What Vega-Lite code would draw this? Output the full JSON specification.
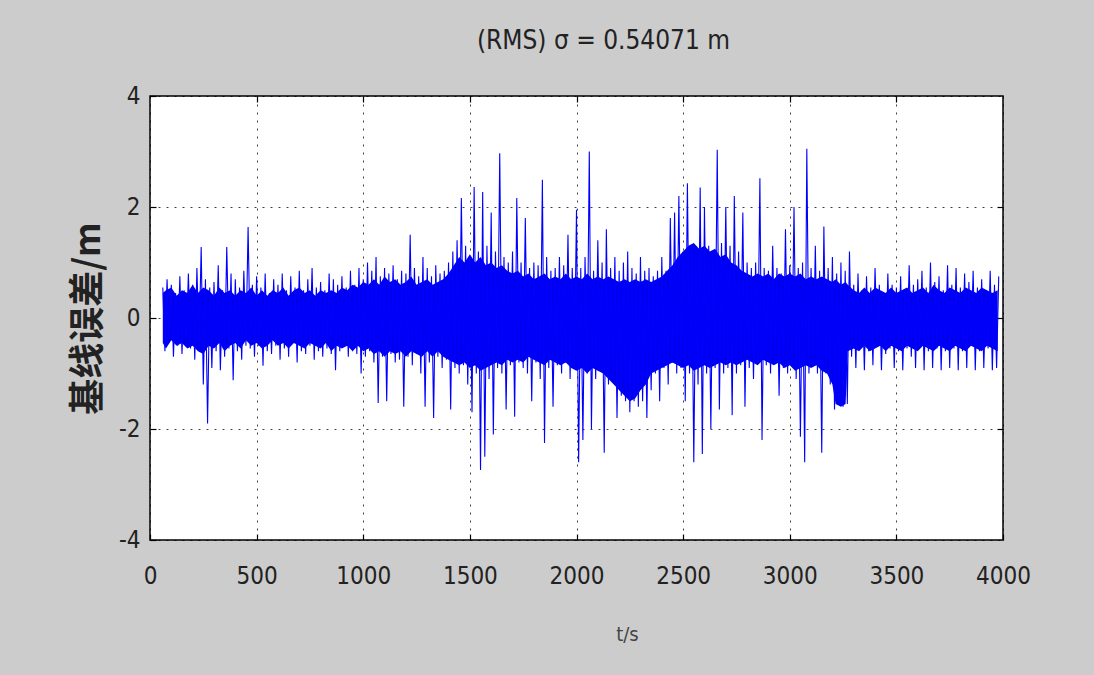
{
  "$schema": "https://vega.github.io/schema/vega-lite/v6.json",
  "width": 853,
  "height": 444,
  "autosize": {"type": "none"},
  "padding": {"left": 150, "top": 96, "right": 91, "bottom": 135},
  "background": "#cccccc",
  "title": {
    "text": "(RMS) σ = 0.54071 m",
    "anchor": "middle",
    "dx": 27,
    "offset": 30,
    "font": "DejaVu Sans Condensed, Liberation Sans, sans-serif",
    "fontSize": 26,
    "fontWeight": "normal",
    "color": "#222222"
  },
  "config": {
    "view": {"fill": "white", "stroke": "black", "strokeWidth": 1.5},
    "axis": {
      "labelFont": "DejaVu Sans Condensed, Liberation Sans, sans-serif",
      "labelFontSize": 24,
      "labelColor": "#222222",
      "labelExpr": "datum.value",
      "labelFlush": false,
      "domain": false,
      "tickColor": "black",
      "tickSize": -6,
      "tickWidth": 1.2,
      "gridColor": "black",
      "gridDash": [2, 6],
      "gridOpacity": 0.75,
      "gridWidth": 1
    }
  },
  "datasets": {
    "core": [
      {"t":60,"lo":-0.45,"hi":0.45},{"t":75,"lo":-0.55,"hi":0.5},{"t":100,"lo":-0.4,"hi":0.55},{"t":125,"lo":-0.5,"hi":0.4},{"t":150,"lo":-0.45,"hi":0.5},
      {"t":175,"lo":-0.55,"hi":0.45},{"t":200,"lo":-0.5,"hi":0.6},{"t":225,"lo":-0.6,"hi":0.45},{"t":250,"lo":-0.65,"hi":0.55},{"t":275,"lo":-0.5,"hi":0.5},
      {"t":300,"lo":-0.55,"hi":0.4},{"t":325,"lo":-0.45,"hi":0.55},{"t":350,"lo":-0.6,"hi":0.45},{"t":375,"lo":-0.5,"hi":0.5},{"t":400,"lo":-0.45,"hi":0.4},
      {"t":425,"lo":-0.55,"hi":0.5},{"t":450,"lo":-0.4,"hi":0.45},{"t":475,"lo":-0.5,"hi":0.55},{"t":500,"lo":-0.45,"hi":0.4},{"t":525,"lo":-0.55,"hi":0.5},
      {"t":550,"lo":-0.5,"hi":0.4},{"t":575,"lo":-0.4,"hi":0.5},{"t":600,"lo":-0.5,"hi":0.45},{"t":625,"lo":-0.45,"hi":0.55},{"t":650,"lo":-0.55,"hi":0.4},
      {"t":675,"lo":-0.45,"hi":0.5},{"t":700,"lo":-0.5,"hi":0.55},{"t":725,"lo":-0.55,"hi":0.45},{"t":750,"lo":-0.45,"hi":0.5},{"t":775,"lo":-0.5,"hi":0.4},
      {"t":800,"lo":-0.55,"hi":0.5},{"t":825,"lo":-0.45,"hi":0.45},{"t":850,"lo":-0.6,"hi":0.5},{"t":875,"lo":-0.5,"hi":0.45},{"t":900,"lo":-0.55,"hi":0.55},
      {"t":925,"lo":-0.5,"hi":0.5},{"t":950,"lo":-0.6,"hi":0.6},{"t":975,"lo":-0.5,"hi":0.55},{"t":1000,"lo":-0.6,"hi":0.65},{"t":1025,"lo":-0.55,"hi":0.6},
      {"t":1050,"lo":-0.65,"hi":0.7},{"t":1075,"lo":-0.6,"hi":0.6},{"t":1100,"lo":-0.7,"hi":0.75},{"t":1125,"lo":-0.6,"hi":0.65},{"t":1150,"lo":-0.65,"hi":0.7},
      {"t":1175,"lo":-0.6,"hi":0.6},{"t":1200,"lo":-0.7,"hi":0.65},{"t":1225,"lo":-0.6,"hi":0.75},{"t":1250,"lo":-0.65,"hi":0.6},{"t":1275,"lo":-0.7,"hi":0.65},
      {"t":1300,"lo":-0.6,"hi":0.7},{"t":1325,"lo":-0.7,"hi":0.6},{"t":1350,"lo":-0.6,"hi":0.65},{"t":1375,"lo":-0.7,"hi":0.7},{"t":1400,"lo":-0.75,"hi":0.8},
      {"t":1425,"lo":-0.8,"hi":0.95},{"t":1450,"lo":-0.85,"hi":1.1},{"t":1475,"lo":-0.8,"hi":1.0},{"t":1500,"lo":-0.9,"hi":1.15},{"t":1525,"lo":-0.85,"hi":1.0},
      {"t":1550,"lo":-0.95,"hi":1.1},{"t":1575,"lo":-0.9,"hi":0.95},{"t":1600,"lo":-0.85,"hi":1.0},{"t":1625,"lo":-0.8,"hi":0.9},{"t":1650,"lo":-0.85,"hi":0.95},
      {"t":1675,"lo":-0.75,"hi":0.85},{"t":1700,"lo":-0.8,"hi":0.8},{"t":1725,"lo":-0.75,"hi":0.85},{"t":1750,"lo":-0.8,"hi":0.75},{"t":1775,"lo":-0.7,"hi":0.8},
      {"t":1800,"lo":-0.75,"hi":0.7},{"t":1825,"lo":-0.8,"hi":0.75},{"t":1850,"lo":-0.85,"hi":0.8},{"t":1875,"lo":-0.75,"hi":0.7},{"t":1900,"lo":-0.8,"hi":0.75},
      {"t":1925,"lo":-0.85,"hi":0.7},{"t":1950,"lo":-0.8,"hi":0.8},{"t":1975,"lo":-0.9,"hi":0.7},{"t":2000,"lo":-0.95,"hi":0.75},{"t":2025,"lo":-0.9,"hi":0.7},
      {"t":2050,"lo":-1.0,"hi":0.8},{"t":2075,"lo":-0.9,"hi":0.7},{"t":2100,"lo":-0.95,"hi":0.75},{"t":2125,"lo":-1.0,"hi":0.7},{"t":2150,"lo":-1.1,"hi":0.75},
      {"t":2175,"lo":-1.2,"hi":0.7},{"t":2200,"lo":-1.3,"hi":0.65},{"t":2225,"lo":-1.4,"hi":0.7},{"t":2250,"lo":-1.5,"hi":0.65},{"t":2275,"lo":-1.45,"hi":0.7},
      {"t":2300,"lo":-1.3,"hi":0.65},{"t":2325,"lo":-1.2,"hi":0.7},{"t":2350,"lo":-1.0,"hi":0.65},{"t":2375,"lo":-0.95,"hi":0.7},{"t":2400,"lo":-0.9,"hi":0.75},
      {"t":2425,"lo":-0.85,"hi":0.85},{"t":2450,"lo":-0.8,"hi":0.95},{"t":2475,"lo":-0.85,"hi":1.1},{"t":2500,"lo":-0.9,"hi":1.2},{"t":2525,"lo":-0.85,"hi":1.3},
      {"t":2550,"lo":-0.95,"hi":1.35},{"t":2575,"lo":-0.9,"hi":1.25},{"t":2600,"lo":-0.85,"hi":1.3},{"t":2625,"lo":-0.9,"hi":1.2},{"t":2650,"lo":-0.85,"hi":1.25},
      {"t":2675,"lo":-0.8,"hi":1.1},{"t":2700,"lo":-0.85,"hi":1.15},{"t":2725,"lo":-0.8,"hi":1.0},{"t":2750,"lo":-0.85,"hi":0.95},{"t":2775,"lo":-0.8,"hi":0.85},
      {"t":2800,"lo":-0.75,"hi":0.8},{"t":2825,"lo":-0.8,"hi":0.75},{"t":2850,"lo":-0.85,"hi":0.8},{"t":2875,"lo":-0.75,"hi":0.75},{"t":2900,"lo":-0.8,"hi":0.8},
      {"t":2925,"lo":-0.85,"hi":0.7},{"t":2950,"lo":-0.8,"hi":0.8},{"t":2975,"lo":-0.9,"hi":0.75},{"t":3000,"lo":-0.85,"hi":0.8},{"t":3025,"lo":-0.95,"hi":0.75},
      {"t":3050,"lo":-0.9,"hi":0.8},{"t":3075,"lo":-0.85,"hi":0.7},{"t":3100,"lo":-0.9,"hi":0.75},{"t":3125,"lo":-0.85,"hi":0.7},{"t":3150,"lo":-0.95,"hi":0.75},
      {"t":3175,"lo":-1.0,"hi":0.7},{"t":3200,"lo":-1.2,"hi":0.65},{"t":3215,"lo":-1.55,"hi":0.7},{"t":3240,"lo":-1.6,"hi":0.6},{"t":3262,"lo":-1.55,"hi":0.65},
      {"t":3272,"lo":-0.6,"hi":0.6},{"t":3300,"lo":-0.55,"hi":0.5},{"t":3325,"lo":-0.6,"hi":0.45},{"t":3350,"lo":-0.5,"hi":0.55},{"t":3375,"lo":-0.6,"hi":0.45},
      {"t":3400,"lo":-0.55,"hi":0.55},{"t":3425,"lo":-0.5,"hi":0.5},{"t":3450,"lo":-0.6,"hi":0.45},{"t":3475,"lo":-0.5,"hi":0.55},{"t":3500,"lo":-0.55,"hi":0.45},
      {"t":3525,"lo":-0.6,"hi":0.5},{"t":3550,"lo":-0.5,"hi":0.55},{"t":3575,"lo":-0.55,"hi":0.45},{"t":3600,"lo":-0.6,"hi":0.5},{"t":3625,"lo":-0.5,"hi":0.55},
      {"t":3650,"lo":-0.55,"hi":0.45},{"t":3675,"lo":-0.6,"hi":0.6},{"t":3700,"lo":-0.5,"hi":0.5},{"t":3725,"lo":-0.55,"hi":0.45},{"t":3750,"lo":-0.6,"hi":0.55},
      {"t":3775,"lo":-0.5,"hi":0.5},{"t":3800,"lo":-0.55,"hi":0.45},{"t":3825,"lo":-0.6,"hi":0.55},{"t":3850,"lo":-0.5,"hi":0.5},{"t":3875,"lo":-0.55,"hi":0.45},
      {"t":3900,"lo":-0.6,"hi":0.55},{"t":3925,"lo":-0.5,"hi":0.5},{"t":3950,"lo":-0.55,"hi":0.45},{"t":3975,"lo":-0.6,"hi":0.5}
    ],
    "signal": [
      {"t":60,"v":0.55},{"t":70,"v":-0.6},{"t":80,"v":0.7},{"t":90,"v":-0.4},
      {"t":100,"v":0.6},{"t":110,"v":-0.7},{"t":120,"v":0.45},{"t":130,"v":-0.5},{"t":140,"v":0.75},{"t":150,"v":-0.65},{"t":160,"v":0.5},{"t":170,"v":-0.45},{"t":180,"v":0.8},{"t":190,"v":-0.55},
      {"t":200,"v":0.6},{"t":210,"v":-0.75},{"t":220,"v":0.9},{"t":230,"v":-0.5},{"t":240,"v":1.28},{"t":250,"v":-1.2},{"t":260,"v":0.7},{"t":270,"v":-1.9},{"t":280,"v":0.55},{"t":290,"v":-0.9},
      {"t":300,"v":0.65},{"t":310,"v":-0.6},{"t":320,"v":0.95},{"t":330,"v":-0.94},{"t":340,"v":0.5},{"t":350,"v":-0.7},{"t":360,"v":1.28},{"t":370,"v":-0.55},{"t":380,"v":0.8},{"t":390,"v":-1.12},
      {"t":400,"v":0.7},{"t":410,"v":-0.6},{"t":420,"v":0.55},{"t":430,"v":-0.75},{"t":440,"v":0.85},{"t":450,"v":-0.5},{"t":460,"v":1.64},{"t":470,"v":-0.55},{"t":480,"v":0.6},{"t":490,"v":-0.7},
      {"t":500,"v":0.75},{"t":510,"v":-0.5},{"t":520,"v":0.55},{"t":530,"v":-0.86},{"t":540,"v":0.8},{"t":550,"v":-0.6},{"t":560,"v":0.45},{"t":570,"v":-0.65},{"t":580,"v":0.7},{"t":590,"v":-0.5},
      {"t":600,"v":0.6},{"t":610,"v":-0.75},{"t":620,"v":0.8},{"t":630,"v":-0.55},{"t":640,"v":0.5},{"t":650,"v":-0.7},{"t":660,"v":0.75},{"t":670,"v":-0.45},{"t":680,"v":0.55},{"t":690,"v":-0.8},
      {"t":700,"v":0.85},{"t":710,"v":-0.6},{"t":720,"v":0.5},{"t":730,"v":-0.65},{"t":740,"v":0.7},{"t":750,"v":-0.5},{"t":760,"v":0.9},{"t":770,"v":-0.75},{"t":780,"v":0.55},{"t":790,"v":-0.6},
      {"t":800,"v":0.65},{"t":810,"v":-0.7},{"t":820,"v":0.5},{"t":830,"v":-0.55},{"t":840,"v":0.8},{"t":850,"v":-0.65},{"t":860,"v":0.7},{"t":870,"v":-0.94},{"t":880,"v":0.6},{"t":890,"v":-0.6},
      {"t":900,"v":0.75},{"t":910,"v":-0.5},{"t":920,"v":0.55},{"t":930,"v":-0.7},{"t":940,"v":0.85},{"t":950,"v":-0.6},{"t":960,"v":0.6},{"t":970,"v":-0.65},{"t":980,"v":0.9},{"t":990,"v":-1.0},
      {"t":1000,"v":0.7},{"t":1010,"v":-0.7},{"t":1020,"v":1.0},{"t":1030,"v":-0.6},{"t":1040,"v":0.85},{"t":1050,"v":-0.8},{"t":1060,"v":1.1},{"t":1070,"v":-1.53},{"t":1080,"v":0.75},{"t":1090,"v":-0.7},
      {"t":1100,"v":0.9},{"t":1110,"v":-1.5},{"t":1120,"v":0.8},{"t":1130,"v":-0.65},{"t":1140,"v":0.95},{"t":1150,"v":-0.8},{"t":1160,"v":0.7},{"t":1170,"v":-0.75},{"t":1180,"v":0.85},{"t":1190,"v":-1.6},
      {"t":1200,"v":0.8},{"t":1210,"v":-0.7},{"t":1220,"v":1.5},{"t":1230,"v":-0.85},{"t":1240,"v":0.9},{"t":1250,"v":-0.65},{"t":1260,"v":0.75},{"t":1270,"v":-1.0},{"t":1280,"v":1.1},{"t":1290,"v":-1.6},
      {"t":1300,"v":0.9},{"t":1310,"v":-0.8},{"t":1320,"v":0.75},{"t":1330,"v":-1.8},{"t":1340,"v":0.95},{"t":1350,"v":-0.7},{"t":1360,"v":0.8},{"t":1370,"v":-0.9},{"t":1380,"v":0.85},{"t":1390,"v":-0.75},
      {"t":1400,"v":1.0},{"t":1410,"v":-1.65},{"t":1420,"v":1.2},{"t":1430,"v":-0.9},{"t":1440,"v":1.4},{"t":1450,"v":-1.0},{"t":1460,"v":2.16},{"t":1470,"v":-0.85},{"t":1480,"v":1.3},{"t":1490,"v":-1.2},
      {"t":1500,"v":1.1},{"t":1510,"v":-1.7},{"t":1520,"v":2.36},{"t":1530,"v":-1.0},{"t":1540,"v":1.2},{"t":1550,"v":-2.74},{"t":1560,"v":2.27},{"t":1570,"v":-2.5},{"t":1580,"v":1.3},{"t":1590,"v":-1.1},
      {"t":1600,"v":1.9},{"t":1610,"v":-2.1},{"t":1620,"v":1.2},{"t":1630,"v":-0.9},{"t":1640,"v":2.97},{"t":1650,"v":-1.0},{"t":1660,"v":1.1},{"t":1670,"v":-1.65},{"t":1680,"v":1.0},{"t":1690,"v":-0.85},
      {"t":1700,"v":1.2},{"t":1710,"v":-1.78},{"t":1720,"v":2.16},{"t":1730,"v":-0.8},{"t":1740,"v":1.0},{"t":1750,"v":-0.9},{"t":1760,"v":1.8},{"t":1770,"v":-1.0},{"t":1780,"v":0.9},{"t":1790,"v":-1.5},
      {"t":1800,"v":1.0},{"t":1810,"v":-0.8},{"t":1820,"v":0.95},{"t":1830,"v":-1.1},{"t":1840,"v":2.49},{"t":1850,"v":-2.25},{"t":1860,"v":1.1},{"t":1870,"v":-0.9},{"t":1880,"v":0.85},{"t":1890,"v":-1.6},
      {"t":1900,"v":0.9},{"t":1910,"v":-0.85},{"t":1920,"v":1.1},{"t":1930,"v":-1.0},{"t":1940,"v":0.95},{"t":1950,"v":-0.8},{"t":1960,"v":1.5},{"t":1970,"v":-1.1},{"t":1980,"v":0.9},{"t":1990,"v":-0.9},
      {"t":2000,"v":1.95},{"t":2010,"v":-2.6},{"t":2020,"v":0.9},{"t":2030,"v":-2.2},{"t":2040,"v":1.1},{"t":2050,"v":-1.0},{"t":2060,"v":3.0},{"t":2070,"v":-2.0},{"t":2080,"v":0.85},{"t":2090,"v":-1.1},
      {"t":2100,"v":1.4},{"t":2110,"v":-0.9},{"t":2120,"v":1.0},{"t":2130,"v":-2.43},{"t":2140,"v":1.6},{"t":2150,"v":-1.2},{"t":2160,"v":0.9},{"t":2170,"v":-1.0},{"t":2180,"v":1.1},{"t":2190,"v":-1.8},
      {"t":2200,"v":0.85},{"t":2210,"v":-1.4},{"t":2220,"v":1.0},{"t":2230,"v":-1.5},{"t":2240,"v":1.2},{"t":2250,"v":-1.7},{"t":2260,"v":0.9},{"t":2270,"v":-1.5},{"t":2280,"v":0.8},{"t":2290,"v":-1.6},
      {"t":2300,"v":1.1},{"t":2310,"v":-1.5},{"t":2320,"v":0.85},{"t":2330,"v":-1.8},{"t":2340,"v":0.9},{"t":2350,"v":-1.3},{"t":2360,"v":0.75},{"t":2370,"v":-1.0},{"t":2380,"v":0.85},{"t":2390,"v":-1.5},
      {"t":2400,"v":1.1},{"t":2410,"v":-0.9},{"t":2420,"v":0.85},{"t":2430,"v":-1.2},{"t":2440,"v":1.8},{"t":2450,"v":-0.8},{"t":2460,"v":1.9},{"t":2470,"v":-1.0},{"t":2480,"v":2.2},{"t":2490,"v":-0.9},
      {"t":2500,"v":1.2},{"t":2510,"v":-1.5},{"t":2520,"v":2.43},{"t":2530,"v":-1.0},{"t":2540,"v":1.3},{"t":2550,"v":-2.6},{"t":2560,"v":1.1},{"t":2570,"v":-1.2},{"t":2580,"v":2.35},{"t":2590,"v":-2.45},
      {"t":2600,"v":2.0},{"t":2610,"v":-1.0},{"t":2620,"v":1.3},{"t":2630,"v":-2.0},{"t":2640,"v":1.2},{"t":2650,"v":-0.9},{"t":2660,"v":3.03},{"t":2670,"v":-1.65},{"t":2680,"v":1.35},{"t":2690,"v":-1.0},
      {"t":2700,"v":2.0},{"t":2710,"v":-0.9},{"t":2720,"v":1.3},{"t":2730,"v":-1.75},{"t":2740,"v":2.2},{"t":2750,"v":-1.0},{"t":2760,"v":1.2},{"t":2770,"v":-0.85},{"t":2780,"v":1.9},{"t":2790,"v":-1.6},
      {"t":2800,"v":1.0},{"t":2810,"v":-0.9},{"t":2820,"v":0.9},{"t":2830,"v":-1.1},{"t":2840,"v":1.0},{"t":2850,"v":-0.8},{"t":2860,"v":2.52},{"t":2870,"v":-2.2},{"t":2880,"v":0.9},{"t":2890,"v":-0.85},
      {"t":2900,"v":0.85},{"t":2910,"v":-1.0},{"t":2920,"v":1.3},{"t":2930,"v":-0.75},{"t":2940,"v":0.9},{"t":2950,"v":-1.4},{"t":2960,"v":0.8},{"t":2970,"v":-0.9},{"t":2980,"v":1.6},{"t":2990,"v":-1.0},
      {"t":3000,"v":0.95},{"t":3010,"v":-0.85},{"t":3020,"v":2.0},{"t":3030,"v":-1.1},{"t":3040,"v":0.9},{"t":3050,"v":-2.14},{"t":3060,"v":1.0},{"t":3070,"v":-2.6},{"t":3080,"v":3.05},{"t":3090,"v":-1.0},
      {"t":3100,"v":0.9},{"t":3110,"v":-0.8},{"t":3120,"v":1.3},{"t":3130,"v":-1.0},{"t":3140,"v":0.85},{"t":3150,"v":-2.43},{"t":3160,"v":1.65},{"t":3170,"v":-1.0},{"t":3180,"v":0.9},{"t":3190,"v":-1.2},
      {"t":3200,"v":1.1},{"t":3210,"v":-1.65},{"t":3220,"v":0.8},{"t":3230,"v":-1.5},{"t":3240,"v":1.0},{"t":3250,"v":-1.6},{"t":3260,"v":0.85},{"t":3270,"v":-1.55},{"t":3280,"v":1.2},{"t":3290,"v":-0.7},
      {"t":3300,"v":0.6},{"t":3310,"v":-0.9},{"t":3320,"v":0.8},{"t":3330,"v":-0.55},{"t":3340,"v":0.5},{"t":3350,"v":-0.94},{"t":3360,"v":0.75},{"t":3370,"v":-0.6},{"t":3380,"v":0.55},{"t":3390,"v":-0.85},
      {"t":3400,"v":0.9},{"t":3410,"v":-0.5},{"t":3420,"v":0.6},{"t":3430,"v":-0.94},{"t":3440,"v":0.45},{"t":3450,"v":-0.65},{"t":3460,"v":0.8},{"t":3470,"v":-0.55},{"t":3480,"v":0.6},{"t":3490,"v":-0.9},
      {"t":3500,"v":0.55},{"t":3510,"v":-0.6},{"t":3520,"v":0.75},{"t":3530,"v":-0.94},{"t":3540,"v":0.5},{"t":3550,"v":-0.55},{"t":3560,"v":0.95},{"t":3570,"v":-0.7},{"t":3580,"v":0.6},{"t":3590,"v":-0.9},
      {"t":3600,"v":0.7},{"t":3610,"v":-0.5},{"t":3620,"v":0.85},{"t":3630,"v":-0.94},{"t":3640,"v":0.55},{"t":3650,"v":-0.6},{"t":3660,"v":1.0},{"t":3670,"v":-0.9},{"t":3680,"v":0.65},{"t":3690,"v":-0.55},
      {"t":3700,"v":0.75},{"t":3710,"v":-0.94},{"t":3720,"v":0.5},{"t":3730,"v":-0.6},{"t":3740,"v":0.95},{"t":3750,"v":-0.9},{"t":3760,"v":0.6},{"t":3770,"v":-0.55},{"t":3780,"v":0.9},{"t":3790,"v":-0.94},
      {"t":3800,"v":0.55},{"t":3810,"v":-0.6},{"t":3820,"v":0.8},{"t":3830,"v":-0.9},{"t":3840,"v":0.65},{"t":3850,"v":-0.5},{"t":3860,"v":0.85},{"t":3870,"v":-0.94},{"t":3880,"v":0.55},{"t":3890,"v":-0.6},
      {"t":3900,"v":0.7},{"t":3910,"v":-0.9},{"t":3920,"v":0.5},{"t":3930,"v":-0.55},{"t":3940,"v":0.85},{"t":3950,"v":-0.94},{"t":3960,"v":0.6},{"t":3970,"v":-0.9},{"t":3980,"v":0.75}
    ]
  },
  "layer": [
    {
      "data": {"name": "core"},
      "mark": {"type": "area", "color": "#0000f0", "opacity": 1, "clip": true},
      "encoding": {
        "x": {
          "field": "t", "type": "quantitative",
          "scale": {"domain": [0, 4000], "nice": false},
          "axis": {
            "orient": "bottom",
            "values": [0, 500, 1000, 1500, 2000, 2500, 3000, 3500, 4000],
            "grid": true,
            "labelPadding": 30,
            "title": "t/s",
            "titleFont": "DejaVu Sans Condensed, Liberation Sans, sans-serif",
            "titleFontSize": 20,
            "titleFontWeight": "normal",
            "titleColor": "#444444",
            "titleX": 477,
            "titleY": 100,
            "titleBaseline": "alphabetic"
          }
        },
        "y": {
          "field": "lo", "type": "quantitative",
          "scale": {"domain": [-4, 4], "nice": false},
          "axis": {
            "orient": "left",
            "values": [-4, -2, 0, 2, 4],
            "grid": true,
            "labelPadding": 16,
            "title": "基线误差/m",
            "titleFont": "Noto Sans CJK SC",
            "titleFontSize": 36,
            "titleFontWeight": "bold",
            "titleColor": "#222222",
            "titleX": -43,
            "titleY": 222
          }
        },
        "y2": {"field": "hi"}
      }
    },
    {
      "data": {"name": "signal"},
      "mark": {"type": "line", "color": "#0000ff", "strokeWidth": 1.1, "clip": true},
      "encoding": {
        "x": {"field": "t", "type": "quantitative", "scale": {"domain": [0, 4000], "nice": false}, "axis": null},
        "y": {"field": "v", "type": "quantitative", "scale": {"domain": [-4, 4], "nice": false}, "axis": null}
      }
    },
    {
      "data": {"name": "signal"},
      "mark": {"type": "line", "opacity": 0},
      "encoding": {
        "x": {
          "field": "t", "type": "quantitative",
          "scale": {"domain": [0, 4000], "nice": false},
          "axis": {"orient": "top", "values": [500, 1000, 1500, 2000, 2500, 3000, 3500], "labels": false, "grid": false, "title": null}
        },
        "y": {
          "field": "v", "type": "quantitative",
          "scale": {"domain": [-4, 4], "nice": false},
          "axis": {"orient": "right", "values": [-2, 0, 2], "labels": false, "grid": false, "title": null}
        }
      }
    }
  ],
  "resolve": {"axis": {"x": "independent", "y": "independent"}}
}
